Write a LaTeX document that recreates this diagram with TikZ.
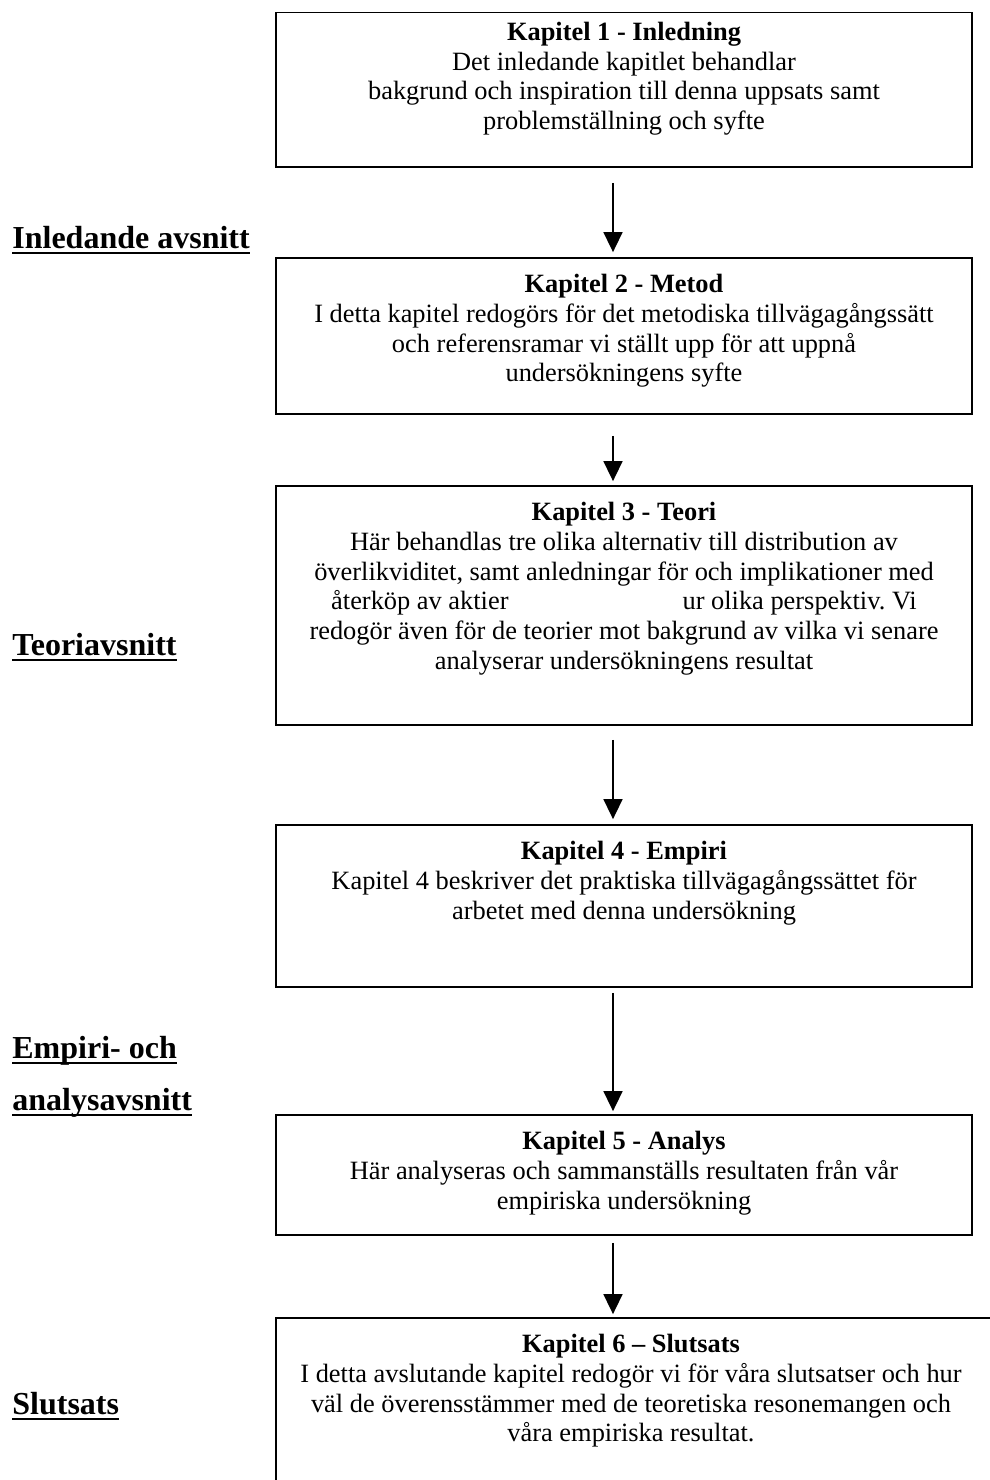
\documentclass[tikz,border=0pt]{standalone}
\usepackage{fontspec}
\setmainfont{Liberation Serif}
\usetikzlibrary{arrows.meta,positioning,calc}
\newcommand{\partul}[1]{\setbox0\hbox{#1}\rlap{\rule[-3.1pt]{\wd0}{1.25pt}}\box0}
\frenchspacing

\begin{document}
\begin{tikzpicture}[x=0.5pt,y=-0.5pt]
      \tikzstyle{box}=[draw,line width=0.9pt,minimum width=348pt,inner sep=0pt]
      \tikzstyle{txt}=[align=center,anchor=north,inner sep=0pt,font=\fontsize{13.2}{14.9}\selectfont]
      \tikzstyle{part}=[anchor=base west,inner sep=0pt,font=\fontsize{16}{19}\selectfont\bfseries]
      \tikzstyle{arr}=[-{Triangle[length=10pt,width=9.5pt]},line width=0.8pt]
      \useasboundingbox (0,0) rectangle (990,1480);
      \clip (0,0) rectangle (990,1480);
      % chapter boxes
      \node[box,minimum height=77.25pt] (k1) at (624,89.75) {};
      \node[box,minimum height=78pt] (k2) at (624,336) {};
      \node[box,minimum height=119.5pt] (k3) at (624,605.5) {};
      \node[box,minimum height=81pt] (k4) at (624,906) {};
      \node[box,minimum height=60pt] (k5) at (624,1175) {};
      \node[box,minimum width=362pt,minimum height=91pt] (k6) at (638,1409) {};
      % box texts
      \node[txt,below=5pt of k1.north] (t1) {\textbf{Kapitel 1 - Inledning}\\Det inledande kapitlet behandlar\\bakgrund och inspiration till denna uppsats samt\\problemställning och syfte};
      \node[txt,below=8.3pt of k2.north] (t2) {\textbf{Kapitel 2 - Metod}\\I detta kapitel redogörs för det metodiska tillvägagångssätt\\och referensramar vi ställt upp för att uppnå\\undersökningens syfte};
      \node[txt,below=8.3pt of k3.north] (t3) {\textbf{Kapitel 3 - Teori}\\Här behandlas tre olika alternativ till distribution av\\överlikviditet, samt anledningar för och implikationer med\\återköp av aktier\hspace{87pt}ur olika perspektiv. Vi\\redogör även för de teorier mot bakgrund av vilka vi senare\\analyserar undersökningens resultat};
      \node[txt,below=8.3pt of k4.north] (t4) {\textbf{Kapitel 4 - Empiri}\\Kapitel 4 beskriver det praktiska tillvägagångssättet för\\arbetet med denna undersökning};
      \node[txt,below=8.3pt of k5.north] (t5) {\textbf{Kapitel 5 - Analys}\\Här analyseras och sammanställs resultaten från vår\\empiriska undersökning};
      \node[txt,below=8.3pt of k6.north,xshift=-3.5pt] (t6) {\textbf{Kapitel 6 – Slutsats}\\I detta avslutande kapitel redogör vi för våra slutsatser och hur\\väl de överensstämmer med de teoretiska resonemangen och\\våra empiriska resultat.};
      % part labels
      \node[part] (p1) at (12,248) {\partul{Inledande avsnitt}};
      \node[part] (p2) at (12,655) {\partul{Teoriavsnitt}};
      \node[part] (p3) at (12,1058) {\partul{Empiri- och}};
      \node[part] (p4) at (12,1110) {\partul{analysavsnitt}};
      \node[part] (p5) at (12,1414) {\partul{Slutsats}};
      % arrows
      \draw[arr,shorten <=7.5pt,shorten >=2.5pt] ([xshift=-5.5pt]k1.south) -- ([xshift=-5.5pt]k2.north);
      \draw[arr,shorten <=10.5pt,shorten >=2pt] ([xshift=-5.5pt]k2.south) -- ([xshift=-5.5pt]k3.north);
      \draw[arr,shorten <=7pt,shorten >=2.5pt] ([xshift=-5.5pt]k3.south) -- ([xshift=-5.5pt]k4.north);
      \draw[arr,shorten <=2.5pt,shorten >=1.5pt] ([xshift=-5.5pt]k4.south) -- ([xshift=-5.5pt]k5.north);
      \draw[arr,shorten <=3.5pt,shorten >=1.5pt] ([xshift=-5.5pt]k5.south) -- ([xshift=-5.5pt]k5.south |- k6.north);
    \end{tikzpicture}
\end{document}
